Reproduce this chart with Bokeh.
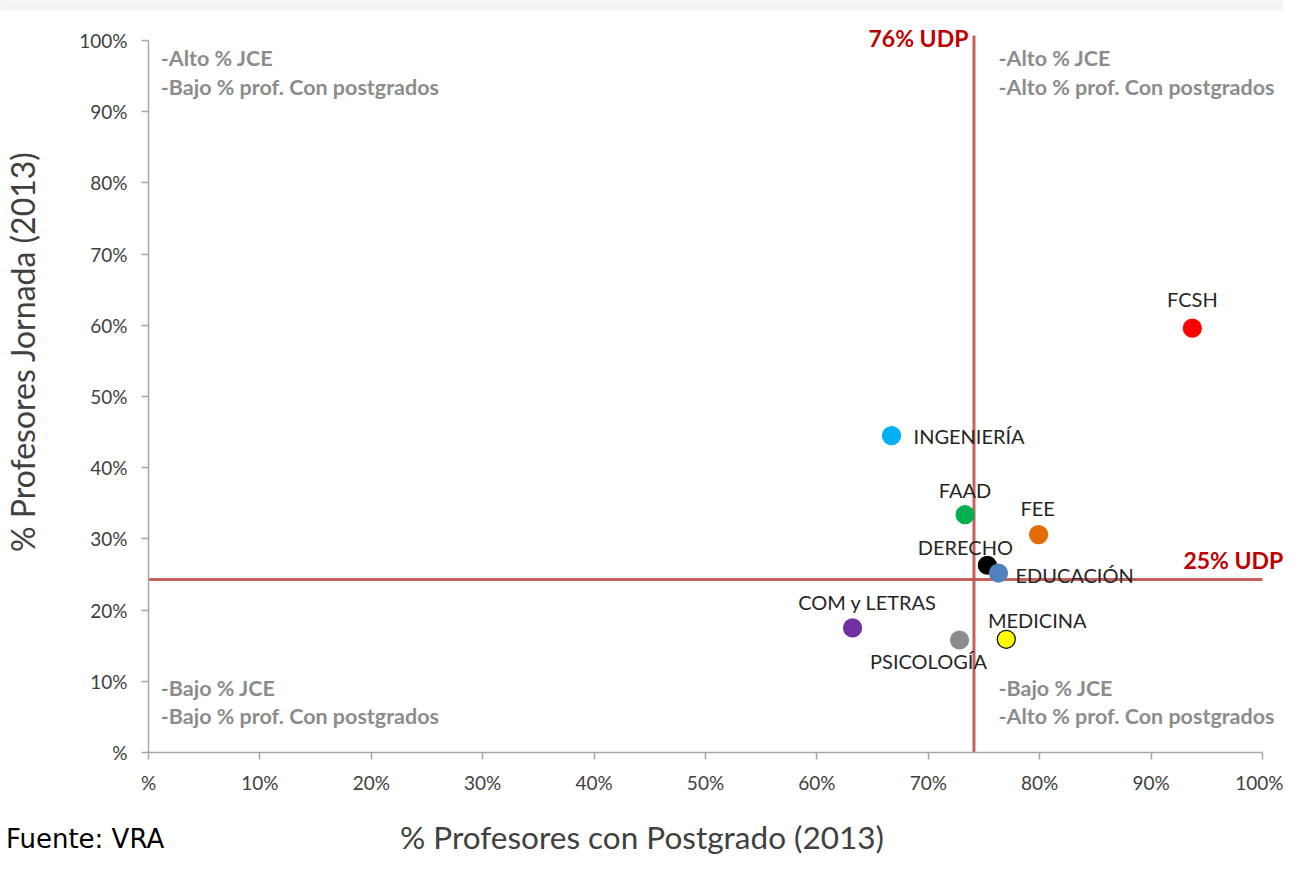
import math
from bokeh.plotting import figure
from bokeh.models import ColumnDataSource, Label, FixedTicker, LinearAxis, BoxAnnotation
from bokeh.core.properties import value
from bokeh.embed import file_html
from bokeh.resources import INLINE

# ---- data ----
names = ["FCSH", "INGENIERÍA", "FAAD", "FEE", "DERECHO", "EDUCACIÓN",
         "COM y LETRAS", "PSICOLOGÍA", "MEDICINA"]
postgrado = [93.7, 66.7, 73.3, 79.9, 75.3, 76.3, 63.2, 72.8, 77.0]
jornada = [59.6, 44.5, 33.4, 30.6, 26.3, 25.2, 17.5, 15.8, 15.9]
udp_postgrado = 74.1
udp_jornada = 24.3
tick_values = [0, 10, 20, 30, 40, 50, 60, 70, 80, 90, 100]
tick_labels = ["%", "10%", "20%", "30%", "40%", "50%", "60%", "70%", "80%", "90%", "100%"]

# ---- styles ----
colors = ["#ff0000", "#00b0f0", "#00b050", "#e36c09", "#000000", "#4f81bd",
          "#7030a0", "#8c8c8c", "#ffff00"]
outline = ["#ff0000", "#00b0f0", "#00b050", "#e36c09", "#000000", "#4f81bd",
           "#7030a0", "#8c8c8c", "#000000"]
lab_dx = [0, 22, 0, -1, -22, 17, 15, -31, 31]
lab_dy = [-29, 0, -25, -27, -18, 2, -26, 21, -19]
lab_align = ["center", "left", "center", "center", "center", "left", "center", "center", "center"]

FONT = "Lato"

src = ColumnDataSource(dict(x=postgrado, y=jornada, name=names, color=colors,
                            line=outline, dx=lab_dx, dy=lab_dy, align=lab_align))

# frame covers the whole canvas; axes are pinned at 0 (11.14 px per % in x, 7.12 in y)
p = figure(width=1283, height=856, output_backend="svg", toolbar_location=None,
           x_range=(-13.285, 101.885), y_range=(-14.607, 105.618),
           x_axis_location=None, y_axis_location=None,
           min_border_left=0, min_border_right=0, min_border_top=0, min_border_bottom=0)
p.outline_line_color = None
p.xgrid.visible = False
p.ygrid.visible = False
p.background_fill_color = "white"
p.border_fill_color = "white"

xaxis = LinearAxis(fixed_location=0)
yaxis = LinearAxis(fixed_location=0)
for ax in (xaxis, yaxis):
    ax.bounds = (0, 100)
    ax.ticker = FixedTicker(ticks=tick_values)
    ax.major_label_overrides = {v: l for v, l in zip(tick_values, tick_labels)}
    ax.axis_line_color = "#a6a6a6"
    ax.axis_line_width = 1.5
    ax.major_tick_line_color = "#a6a6a6"
    ax.major_tick_line_width = 1.5
    ax.major_tick_in = 0
    ax.major_tick_out = 7
    ax.minor_tick_line_color = None
    ax.major_label_text_font = FONT
    ax.major_label_text_font_size = "19px"
    ax.major_label_text_color = "#404040"
xaxis.major_label_standoff = 12
yaxis.major_label_standoff = 14
p.add_layout(xaxis, "below")
p.add_layout(yaxis, "left")

# top band
p.add_layout(BoxAnnotation(left=-14, right=102, bottom=104.2, top=106,
                           fill_color="#f3f3f3", fill_alpha=1, line_color=None))

# axis titles
p.add_layout(Label(x=44.3, y=-11.8, text="% Profesores con Postgrado (2013)",
                   text_align="center", text_baseline="middle", text_font=FONT,
                   text_font_size="31.5px", text_color="#404040"))
p.add_layout(Label(x=-11.3, y=56.3, text="% Profesores Jornada (2013)", angle=math.pi / 2,
                   text_align="center", text_baseline="middle", text_font=FONT,
                   text_font_size="32px", text_color="#404040"))

# reference lines
p.segment(x0=[udp_postgrado], y0=[0], x1=[udp_postgrado], y1=[100.7],
          line_color="#c0504d", line_width=3, line_alpha=0.9)
p.segment(x0=[0], y0=[udp_jornada], x1=[100], y1=[udp_jornada],
          line_color="#c0504d", line_width=3, line_alpha=0.9)

# points
p.scatter("x", "y", source=src, size=18, fill_color="color", line_color="line",
          line_width=1.2)
p.text("x", "y", text="name", source=src, x_offset="dx", y_offset="dy",
       text_align="align", text_baseline="middle", text_font=value(FONT),
       text_font_size="20px", text_color="#262626")

# UDP labels
p.add_layout(Label(x=73.6, y=100.3, text="76% UDP", text_align="right",
                   text_baseline="middle", text_font=FONT, text_font_size="23px",
                   text_font_style="bold", text_color="#c00000"))
p.add_layout(Label(x=92.9, y=27.0, text="25% UDP", text_align="left",
                   text_baseline="middle", text_font=FONT, text_font_size="23px",
                   text_font_style="bold", text_color="#c00000"))

# quadrant notes
quad = [
    (1.1, 97.5, "-Alto % JCE"), (1.1, 93.5, "-Bajo % prof. Con postgrados"),
    (76.3, 97.5, "-Alto % JCE"), (76.3, 93.5, "-Alto % prof. Con postgrados"),
    (1.1, 9.0, "-Bajo % JCE"), (1.1, 5.1, "-Bajo % prof. Con postgrados"),
    (76.3, 9.0, "-Bajo % JCE"), (76.3, 5.1, "-Alto % prof. Con postgrados"),
]
for qx, qy, qt in quad:
    p.add_layout(Label(x=qx, y=qy, text=qt, text_align="left", text_baseline="middle",
                       text_font=FONT, text_font_size="21.5px", text_font_style="bold",
                       text_color="#8c8c8c"))

# source note
p.add_layout(Label(x=-12.8, y=-10.1, text="Fuente: VRA", text_align="left",
                   text_baseline="top", text_font="DejaVu Sans",
                   text_font_size="26px", text_color="#000000"))

open("out.html", "w").write(file_html(p, INLINE))
